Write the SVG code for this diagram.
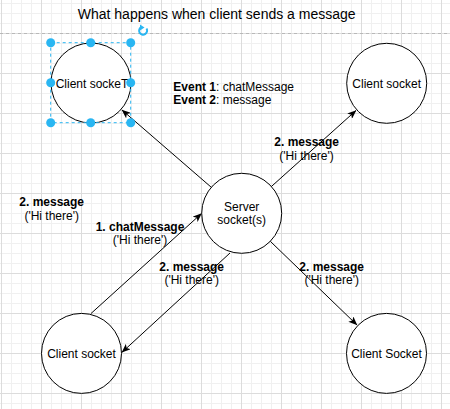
<svg xmlns="http://www.w3.org/2000/svg" width="450" height="409" viewBox="0 0 450 409">
<style>
.node{fill:#fff;stroke:#000;stroke-width:1}
.edge{fill:none;stroke:#000;stroke-width:1}
text{font-family:"Liberation Sans",Arial,sans-serif;font-size:12px;fill:#000}
.c{text-anchor:middle}
.b{font-weight:bold}
.h{fill:#29b6f2}
</style>
<defs>
<pattern id="grid" x="1" y="33" width="40" height="40" patternUnits="userSpaceOnUse">
<path d="M10.5,0V40M20.5,0V40M30.5,0V40M0,10.5H40M0,20.5H40M0,30.5H40" stroke="#f0f0f0" stroke-width="1" fill="none"/>
<path d="M0.5,0V40M0,0.5H40" stroke="#dcdcdc" stroke-width="1" fill="none"/>
</pattern>
<marker id="arr" viewBox="0 0 10 8" refX="9.5" refY="4" markerWidth="9" markerHeight="7.2" orient="auto" markerUnits="userSpaceOnUse">
<path d="M0,0 L10,4 L0,8 L2.5,4 z" fill="#000"/>
</marker>
</defs>
<rect width="450" height="409" fill="#fff"/>
<rect width="450" height="409" fill="url(#grid)"/>
<line x1="0" y1="33.5" x2="450" y2="33.5" stroke="#b8b8b8" stroke-dasharray="3,3"/>
<text class="c" x="216.7" y="18.5" style="font-size:14px">What happens when client sends a message</text>

<g id="connectors">
<path class="edge" d="M211.3,187.3 L122,110" marker-end="url(#arr)"/>
<path class="edge" d="M271.2,186.7 L356,110.5" marker-end="url(#arr)"/>
<path class="edge" d="M91,313.5 L201.5,213.5" marker-end="url(#arr)"/>
<path class="edge" d="M230,253 L122,352.3" marker-end="url(#arr)"/>
<path class="edge" d="M270.3,241.3 L357,325" marker-end="url(#arr)"/>
</g>

<g id="node-client-tl">
<circle class="node" cx="91" cy="83" r="40"/>
<text class="c" x="92" y="87.5">Client sockeT</text>
</g>
<g id="node-client-tr">
<circle class="node" cx="386.7" cy="83.3" r="40"/>
<text class="c" x="386.7" y="87.5">Client socket</text>
</g>
<g id="node-server">
<circle class="node" cx="241.7" cy="213.3" r="40"/>
<text class="c" x="241.7" y="210.5">Server</text>
<text class="c" x="241.7" y="224.3">socket(s)</text>
</g>
<g id="node-client-bl">
<circle class="node" cx="81.5" cy="353.4" r="40"/>
<text class="c" x="81.5" y="357.5">Client socket</text>
</g>
<g id="node-client-br">
<circle class="node" cx="386.5" cy="353.4" r="40"/>
<text class="c" x="386.5" y="357.5">Client Socket</text>
</g>

<g id="labels">
<text x="173.3" y="90.7"><tspan class="b">Event 1</tspan>: chatMessage</text>
<text x="173.3" y="104.3"><tspan class="b">Event 2</tspan>: message</text>
<text class="c b" x="306.7" y="146">2. message</text>
<text class="c" x="306.5" y="159.5">('Hi there')</text>
<text class="c b" x="51.7" y="206">2. message</text>
<text class="c" x="51.7" y="219.5">('Hi there')</text>
<text class="c b" x="140" y="230.7">1. chatMessage</text>
<text class="c" x="140" y="244.2">('Hi there')</text>
<text class="c b" x="191.7" y="270.7">2. message</text>
<text class="c" x="191.7" y="284.2">('Hi there')</text>
<text class="c b" x="331.7" y="270.7">2. message</text>
<text class="c" x="331.7" y="284.2">('Hi there')</text>
</g>

<g id="selection">
<rect x="50.7" y="42.7" width="80" height="80" fill="none" stroke="#29b6f2" stroke-dasharray="3,3"/>
<circle class="h" cx="50.7" cy="42.7" r="4.5"/>
<circle class="h" cx="90.7" cy="42.7" r="4.5"/>
<circle class="h" cx="130.7" cy="42.7" r="4.5"/>
<circle class="h" cx="50.7" cy="82.7" r="4.5"/>
<circle class="h" cx="130.7" cy="82.7" r="4.5"/>
<circle class="h" cx="50.7" cy="122.7" r="4.5"/>
<circle class="h" cx="90.7" cy="122.7" r="4.5"/>
<circle class="h" cx="130.7" cy="122.7" r="4.5"/>
<path d="M146.5,28.5 A4,4 0 1 1 141.5,27" fill="none" stroke="#29b6f2" stroke-width="2"/>
<path d="M140,24.5 L144.5,27.5 L140,30.5 z" fill="#29b6f2"/>
</g>
</svg>
